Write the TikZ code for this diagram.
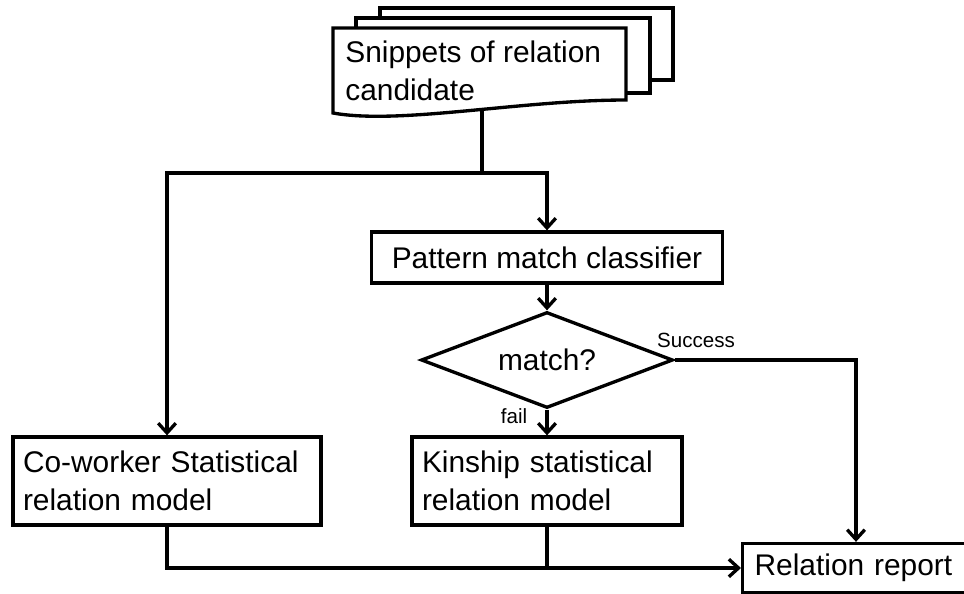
\documentclass[tikz,border=0pt]{standalone}
\usepackage{fontspec}
\setmainfont{Liberation Sans}
\usetikzlibrary{arrows.meta,positioning,shapes.geometric}

\tikzset{
  flow/.style={line width=1.9pt},
  procbox/.style={draw, flow, fill=white, font=\fontsize{17}{21.5}\selectfont,
    inner xsep=0.2cm, inner ysep=0pt, minimum height=1.76cm,
    text width=#1, align=left},
  classbox/.style={draw, flow, fill=white, font=\fontsize{17}{21.5}\selectfont,
    minimum width=7.02cm, minimum height=1.02cm, inner sep=0pt},
  decision/.style={diamond, draw, flow, fill=white, aspect=2.6, inner sep=0pt,
    minimum width=5.04cm, minimum height=1.92cm, font=\fontsize{17}{21.5}\selectfont},
  reportbox/.style={draw, flow, fill=white, font=\fontsize{17}{21.5}\selectfont,
    inner xsep=0.24cm, text width=4.22cm, minimum height=0.98cm, align=left},
  lbl/.style={font=\fontsize{11.7}{14}\selectfont, inner sep=0pt},
}

\begin{document}
\begin{tikzpicture}[x=0.02cm,y=-0.02cm,>={Straight Barb[length=5.5pt,width=10pt]}]
    \useasboundingbox (0,0) rectangle (964,593);
    % stack of snippet pages
    \draw[flow,fill=white] (380,8) rectangle (673,80);
    \draw[flow,fill=white] (356,18) rectangle (650,93);
    \draw[flow,fill=white] (333,113) -- (333,28) -- (626,28) -- (626,100)
      .. controls (520,100) and (400,125) .. (333,113) -- cycle;
    \node[font=\fontsize{17}{21.5}\selectfont, align=left, anchor=west, inner sep=0pt]
      (snip) at (345,71) {Snippets of relation\\candidate};
    \coordinate (docfoot) at (482,110);
    \coordinate (split) at (482,173);
    % steps
    \node[classbox] (pmc) at (547,257.5) {Pattern match classifier};
    \node[decision] (match) at (547,360) {match?};
    \node[procbox=5.76cm] (cowork) at (167,481) {Co-worker Statistical\\relation model};
    \node[procbox=5.0cm] (kinship) at (547,481) {Kinship statistical\\relation model};
    \node[reportbox, anchor=west] (report) at (741,568) {Relation report};
    % connectors
    \draw[flow,->] (docfoot) -- (split) -| (cowork);
    \draw[flow,->] (split) -| (pmc);
    \draw[flow,->] (pmc) -- (match);
    \draw[flow,->] (match) -- (kinship);
    \node[lbl] (faillbl) at (514,416) {fail};
    \draw[flow,->] (match) -| (report.north -| 856,0);
    \node[lbl] (success) at (696,340) {Success};
    \draw[flow,->] (cowork) |- (report);
    \draw[flow] (kinship) -- (kinship |- report.west);
\end{tikzpicture}
\end{document}
